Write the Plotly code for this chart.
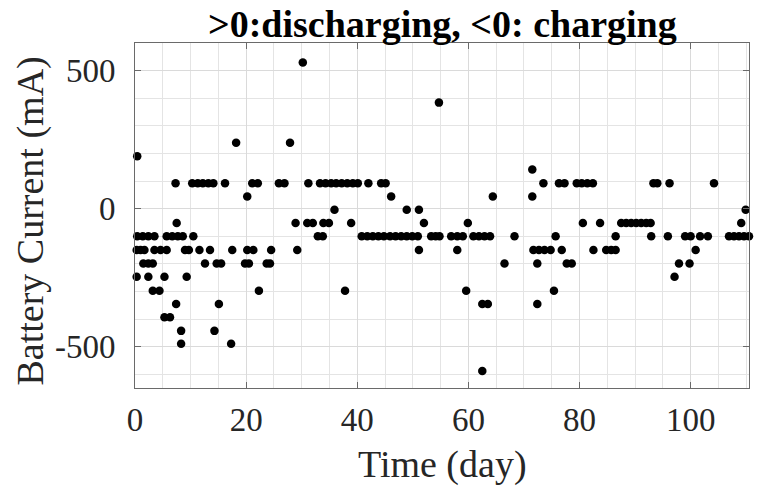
import plotly.graph_objects as go

# Battery current samples: day of record and current (mA); >0 discharging, <0 charging
day = [
    0.3, 0.3, 0.4, 0.4, 1.0, 1.4, 1.5, 1.7, 2.4, 2.4, 2.4, 3.2, 3.2, 3.5, 3.5, 4.4, 4.6,
    5.3, 5.3, 5.7, 5.7, 6.3, 6.7, 7.3, 7.4, 7.5, 7.7, 8.3, 8.3, 8.6, 9.0, 9.3, 9.7,
    10.3, 10.5, 11.3, 11.6, 12.2, 12.6, 13.2, 13.5, 14.1, 14.3, 14.7, 15.1, 15.5, 16.2,
    17.3, 17.5, 18.2, 19.8, 20.2, 20.2, 20.5, 21.1, 21.3, 22.1, 22.3, 23.7, 24.3, 24.5,
    25.9, 26.9, 27.9, 28.9, 29.2, 30.2, 31.0, 31.2, 32.0, 32.9, 33.3, 33.8, 33.9, 34.3,
    34.9, 35.3, 35.9, 36.2, 37.2, 37.8, 38.2, 38.9, 39.2, 40.1, 40.8, 41.8, 42.0, 42.8,
    43.8, 44.3, 44.8, 45.1, 45.9, 46.1, 46.9, 47.9, 48.9, 48.9, 49.9, 50.9, 51.1, 51.1,
    52.0, 53.3, 54.1, 54.7, 54.8, 56.9, 58.0, 58.0, 59.0, 59.6, 59.9, 60.9, 61.9, 62.5,
    62.5, 62.9, 63.5, 63.9, 64.4, 66.5, 68.3, 71.5, 71.5, 71.7, 72.4, 72.4, 72.7, 73.5,
    73.7, 74.8, 75.4, 75.7, 76.3, 76.8, 77.3, 77.7, 78.6, 79.5, 80.4, 80.6, 81.4, 82.4,
    82.5, 83.7, 84.8, 85.7, 86.5, 86.5, 87.5, 88.4, 89.3, 90.2, 91.1, 92.0, 92.9, 92.8,
    93.3, 94.0, 95.9, 96.2, 97.1, 97.9, 99.0, 99.8, 100.0, 100.9, 101.7, 103.1, 104.2,
    106.9, 107.8, 108.7, 109.1, 109.6, 109.9, 110.5,
]
current_ma = [
    -150, -247, 190, -100, -150, -100, -199, -150, -100, -199, -247, -199, -298, -100, -150, -298, -150,
    -247, -394, -150, -100, -394, -100, 92, -346, -52, -100, -443, -490, -100, -150, -247, -150,
    92, -100, 92, -150, 92, -199, 92, -150, 92, -443, -199, -346, -199, 92,
    -490, -150, 239, -199, 44, -150, -199, 92, -150, 92, -298, -199, -199, -150,
    92, 92, 239, -52, -150, 529, -52, 92, -52, -100, 92, -100, -52, 92,
    -52, 92, -4, 92, 92, -298, 92, -52, 92, 92, -100, -100, 92, -100,
    -100, 92, -100, 92, -100, 44, -100, -100, -100, -4, -100, -100, -4, -150,
    -52, -100, -100, 384, -100, -100, -100, -150, -100, -298, -52, -100, -100, -346,
    -588, -100, -346, -100, 44, -199, -100, 142, 44, -150, -199, -346, -150, 92,
    -150, -150, -298, -100, 92, -150, 92, -199, -199, 92, 92, -52, 92, 92,
    -150, -52, -150, -150, -150, -100, -52, -52, -52, -52, -52, -52, -100, -52,
    92, 92, -100, 92, -247, -199, -100, -199, -100, -150, -100, -100, 92,
    -100, -100, -100, -52, -100, -4, -100,
]

x_ticks = [0, 20, 40, 60, 80, 100]
y_ticks = [-500, 0, 500]

title_text = "<b>>0:discharging, <0: charging</b>"
x_label = "Time (day)"
y_label = "Battery Current (mA)"

FONT = "Liberation Serif, Times New Roman, serif"
AXIS_COLOR = "#6a6a6a"
TEXT_COLOR = "#262626"

fig = go.Figure(
    go.Scatter(
        x=day,
        y=current_ma,
        mode="markers",
        marker=dict(color="black", size=8.5, line=dict(width=0)),
        cliponaxis=False,
        hoverinfo="x+y",
    )
)

common_axis = dict(
    showline=True,
    linecolor=AXIS_COLOR,
    linewidth=1,
    mirror="ticks",
    ticks="inside",
    ticklen=6,
    tickwidth=1,
    tickcolor=AXIS_COLOR,
    showgrid=True,
    gridcolor="rgb(218,218,218)",
    gridwidth=1,
    zeroline=False,
    tickfont=dict(family=FONT, size=33, color=TEXT_COLOR),
)

fig.update_xaxes(
    range=[0, 110.5],
    tickmode="array",
    tickvals=x_ticks,
    ticktext=[str(v) for v in x_ticks],
    ticklabelstandoff=2,
    minor=dict(dtick=5, showgrid=True, gridcolor="rgb(228,228,228)", gridwidth=1),
    **common_axis,
)
fig.update_yaxes(
    range=[-650, 600],
    tickmode="array",
    tickvals=y_ticks,
    ticktext=[str(v) for v in y_ticks],
    ticklabelstandoff=12,
    minor=dict(dtick=100, showgrid=True, gridcolor="rgb(228,228,228)", gridwidth=1),
    **common_axis,
)

fig.update_layout(
    width=757,
    height=488,
    margin=dict(l=135, r=8, t=43, b=100),
    paper_bgcolor="white",
    plot_bgcolor="white",
    showlegend=False,
    annotations=[
        dict(text=title_text, xref="paper", yref="paper", x=0.5, y=1,
             xanchor="center", yanchor="bottom", yshift=-4, showarrow=False,
             font=dict(family=FONT, size=38, color="black")),
        dict(text=x_label, xref="paper", yref="paper", x=0.5, y=0,
             xanchor="center", yanchor="middle", yshift=-76, showarrow=False,
             font=dict(family=FONT, size=38, color=TEXT_COLOR)),
        dict(text=y_label, xref="paper", yref="paper", x=0, y=0.5,
             xanchor="center", yanchor="middle", xshift=-105, yshift=-6,
             textangle=-90, showarrow=False,
             font=dict(family=FONT, size=38, color=TEXT_COLOR)),
    ],
)

fig.write_html("out.html")
